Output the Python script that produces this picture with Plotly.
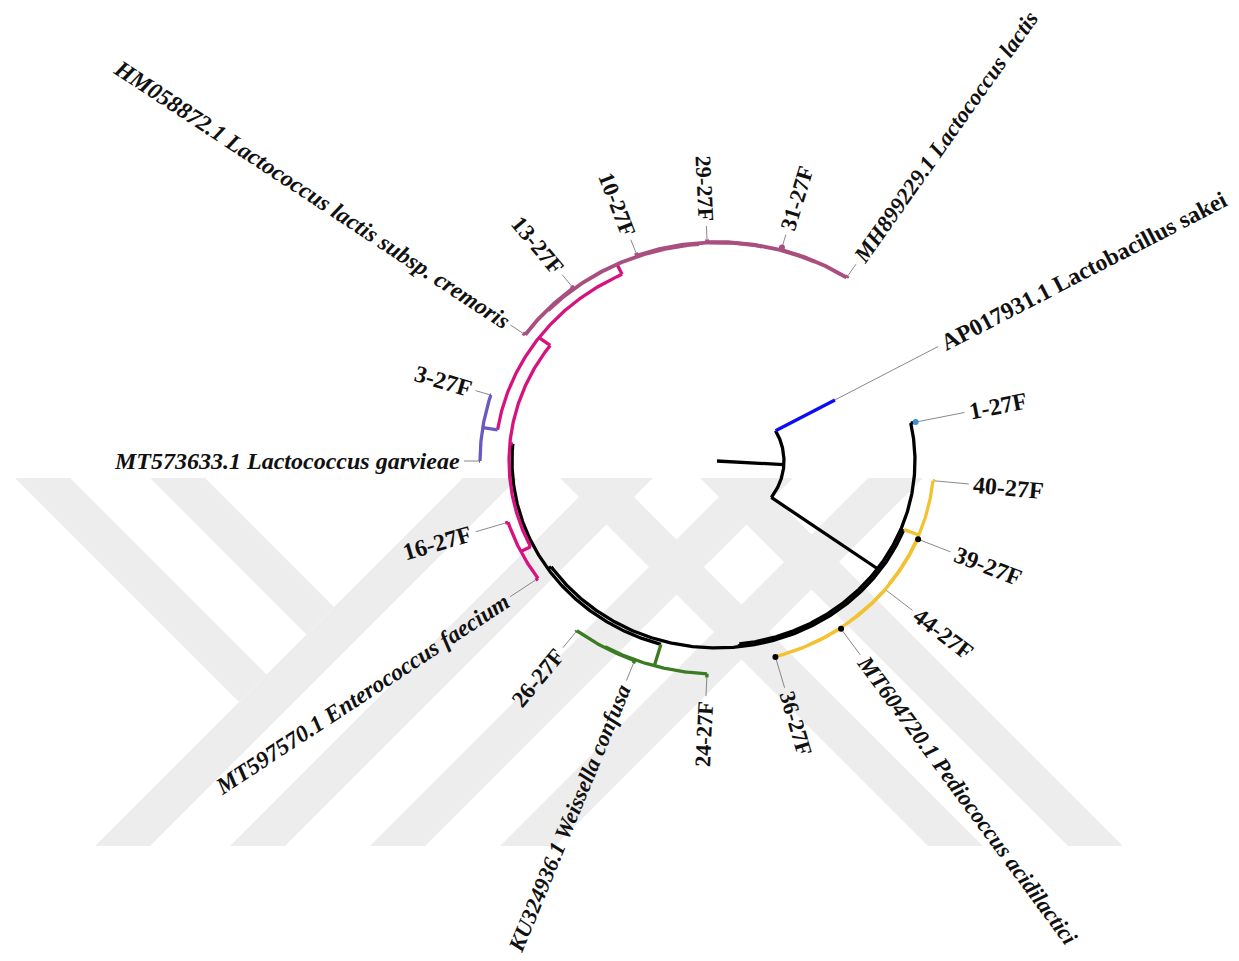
import math
from collections import defaultdict
import plotly.graph_objects as go

# ------------------------------------------------------------------ data
# Tree topology (parents listed before children) and branch lengths
node_names = ["root", "A", "sakei", "B", "t1", "D",
              "Y1", "t40", "Y2", "t39", "Y3", "t44", "Y4", "tPed", "t36",
              "E", "G1", "t24", "G2", "tWei", "t26",
              "P", "Ent", "tEnt", "t16", "Q", "Pu", "tGar", "t3",
              "M", "M1", "tHM", "t13", "M2", "t10", "M3", "t29", "M4", "t31", "tMH"]
node_parents = [None, "root", "A", "A", "B", "B",
                "D", "Y1", "Y1", "Y2", "Y2", "Y3", "Y3", "Y4", "Y4",
                "D", "E", "G1", "G1", "G2", "G2",
                "E", "P", "Ent", "Ent", "P", "Q", "Pu", "Pu",
                "Q", "M", "M1", "M1", "M", "M2", "M2", "M3", "M3", "M4", "M4"]
branch_lengths = [0.0, 0.067, 0.068, 0.131, 0.005, 0.003,
                  0.016, 0.002, 0.0005, 0.0005, 0.0005, 0.0005, 0.0003, 0.0007, 0.0003,
                  0.004, 0.024, 0.004, 0.001, 0.003, 0.002,
                  0.003, 0.011, 0.003, 0.003, 0.014, 0.015, 0.001, 0.001,
                  0.012, 0.001, 0.003, 0.003, 0.001, 0.003, 0.0005, 0.003, 0.0005, 0.0025, 0.0025]
node_groups = ["base", "base", "sakei", "base", "base", "base",
               "pedio", "pedio", "pedio", "pedio", "pedio", "pedio", "pedio", "pedio", "pedio",
               "base", "weiss", "weiss", "weiss", "weiss", "weiss",
               "entero", "entero", "entero", "entero", "entero", "garv", "garv", "garv",
               "lactis", "lactis", "lactis", "lactis", "lactis", "lactis", "lactis", "lactis",
               "lactis", "lactis", "lactis"]
# angular position of every leaf (degrees, counter-clockwise from 3 o'clock), in leaf order
leaf_order = ["sakei", "t1", "t40", "t39", "t44", "tPed", "t36", "t24", "tWei", "t26",
              "tEnt", "t16", "tGar", "t3", "tHM", "t13", "t10", "t29", "t31", "tMH"]
leaf_angles = [29.1, 11.9, -5.6, -22.7, -39.4, -55.5, -74.5, -92.5, -111.0, -127.5,
               -144.8, -162.5, -180.0, -197.4, -215.3, -232.3, -250.1, -267.6, -285.8, -303.3]
leaf_labels = {
    "sakei": "AP017931.1 Lactobacillus sakei",
    "t1": "1-27F", "t40": "40-27F", "t39": "39-27F", "t44": "44-27F",
    "tPed": "MT604720.1 Pediococcus acidilactici", "t36": "36-27F",
    "t24": "24-27F", "tWei": "KU324936.1 Weissella confusa", "t26": "26-27F",
    "tEnt": "MT597570.1 Enterococcus faecium", "t16": "16-27F",
    "tGar": "MT573633.1 Lactococcus garvieae", "t3": "3-27F",
    "tHM": "HM058872.1 Lactococcus lactis subsp. cremoris", "t13": "13-27F",
    "t10": "10-27F", "t29": "29-27F", "t31": "31-27F",
    "tMH": "MH899229.1 Lactococcus lactis",
}
italic_leaves = ["tPed", "tWei", "tEnt", "tGar", "tHM", "tMH"]
marked_tips = ["t1", "t39", "t36", "t31", "tPed"]

assert len(node_names) == len(node_parents) == len(branch_lengths) == len(node_groups)

# ------------------------------------------------------------------ style
GROUP_COLOURS = {"base": "#000000", "sakei": "#0c0cf5", "pedio": "#f2c232",
                 "weiss": "#3b7b22", "entero": "#d5127e", "garv": "#6b58c2",
                 "lactis": "#a94f80"}
GROUP_WIDTH = {"lactis": 3.8}
STEM_OVERRIDE = {"M": "entero"}
TIP_DOT_COLOURS = {"t1": "#3d8fd4", "t39": "#000000", "t36": "#000000",
                   "t31": "#a94f80", "tPed": "#000000"}
UNIT_PX = 1000.0
Y_SCALE = 0.93
W, H = 1239, 961
CX, CY = 717, 461
LABEL_R = 256
FONT_BASE = 24.0
FONT = "Liberation Serif"
LINE_W = 3.3

# ------------------------------------------------------------------ layout of tree
children = {n: [] for n in node_names}
parent_of = dict(zip(node_names, node_parents))
group_of = dict(zip(node_names, node_groups))
for n, p in zip(node_names, node_parents):
    if p is not None:
        children[p].append(n)

radius = {}
for n, p, bl in zip(node_names, node_parents, branch_lengths):
    radius[n] = (radius[p] if p else 0.0) + bl * UNIT_PX

leaves = []


def collect(n):
    if not children[n]:
        leaves.append(n)
        return
    for c in children[n]:
        collect(c)


collect("root")
assert leaves == leaf_order
angle = dict(zip(leaf_order, leaf_angles))


def set_angle(n):
    if children[n]:
        for c in children[n]:
            set_angle(c)
        angle[n] = (angle[children[n][0]] + angle[children[n][-1]]) / 2.0


set_angle("root")


def polar(r, deg):
    t = math.radians(deg)
    return r * math.cos(t), r * math.sin(t)


segs = defaultdict(lambda: ([], []))


def add_seg(g, pts):
    xs, ys = segs[g]
    for x, y in pts:
        xs.append(x)
        ys.append(y)
    xs.append(None)
    ys.append(None)


for n in node_names:
    p = parent_of[n]
    if p is not None:
        g = STEM_OVERRIDE.get(n, group_of[n])
        add_seg(g, [polar(radius[p], angle[n]), polar(radius[n], angle[n])])
    if children[n] and len(children[n]) > 1:
        a0 = angle[children[n][0]]
        a1 = angle[children[n][-1]]
        k = max(2, int(abs(a1 - a0) / 0.4) + 1)
        pts = [polar(radius[n], a0 + (a1 - a0) * i / (k - 1)) for i in range(k)]
        add_seg(group_of[n], pts)

fig = go.Figure()

# ------------------------------------------------------------------ watermark (decorative)
wm_col = "#ededed"
WM_TOP, WM_BOT = 478, 846
band = 55
hgt = WM_BOT - WM_TOP


def px2paper(x, y):
    return x / W, 1 - y / H


def poly(points):
    pp = [px2paper(x, y) for x, y in points]
    path = "M " + " L ".join(f"{x:.4f},{y:.4f}" for x, y in pp) + " Z"
    fig.add_shape(type="path", path=path, xref="paper", yref="paper",
                  fillcolor=wm_col, line=dict(width=0), layer="below")


for b in [95, 230, 370, 500]:
    poly([(b, WM_BOT), (b + band, WM_BOT), (b + band + hgt, WM_TOP), (b + hgt, WM_TOP)])
for t in [560, 700]:
    poly([(t, WM_TOP), (t + band, WM_TOP), (t + band + hgt, WM_BOT), (t + hgt, WM_BOT)])
poly([(15, 478), (70, 478), (266.5, 674.5), (239, 702)])
poly([(150, 478), (205, 478), (334, 607), (306.5, 634.5)])

# ------------------------------------------------------------------ connectors
cx, cy = [], []
for leaf in leaves:
    x0, y0 = polar(radius[leaf], angle[leaf])
    x1, y1 = polar(LABEL_R - 3, angle[leaf])
    cx += [x0, x1, None]
    cy += [y0, y1, None]
fig.add_trace(go.Scatter(x=cx, y=cy, mode="lines", line=dict(color="#7a7a7a", width=0.9),
                         hoverinfo="skip", showlegend=False))

# ------------------------------------------------------------------ branches
order = ["base"] + [g for g in segs if g != "base"]
for g in order:
    if g in segs:
        xs, ys = segs[g]
        fig.add_trace(go.Scatter(x=xs, y=ys, mode="lines",
                                 line=dict(color=GROUP_COLOURS[g], width=GROUP_WIDTH.get(g, LINE_W)),
                                 hoverinfo="skip", showlegend=False))

# tip dots
for leaf in marked_tips:
    x, y = polar(radius[leaf], angle[leaf])
    fig.add_trace(go.Scatter(x=[x], y=[y], mode="markers",
                             marker=dict(color=TIP_DOT_COLOURS[leaf], size=6),
                             hoverinfo="skip", showlegend=False))

# ------------------------------------------------------------------ labels
BOLD = {" ": 250, "-": 333, ".": 250, "A": 722, "F": 611, "H": 778, "K": 778, "M": 944,
        "P": 611, "T": 667, "U": 722, "L": 667, "E": 667, "W": 1000,
        "a": 500, "b": 556, "c": 444, "d": 556, "e": 444, "f": 333, "g": 500, "h": 556,
        "i": 278, "k": 556, "l": 278, "m": 833, "n": 556, "o": 500, "p": 556, "r": 444,
        "s": 389, "t": 333, "u": 556, "v": 500, "y": 500}
BOLD_IT = {" ": 250, "-": 333, ".": 250, "A": 667, "F": 667, "H": 778, "K": 667, "M": 889,
           "P": 611, "T": 611, "U": 722, "L": 611, "E": 667, "W": 889,
           "a": 500, "b": 500, "c": 444, "d": 500, "e": 444, "f": 333, "g": 500, "h": 556,
           "i": 278, "k": 500, "l": 278, "m": 778, "n": 556, "o": 500, "p": 500, "r": 389,
           "s": 389, "t": 278, "u": 556, "v": 444, "y": 444}


def text_width(s, italic, size):
    tab = BOLD_IT if italic else BOLD
    return sum(tab.get(ch, 500) for ch in s) / 1000.0 * size


for leaf in leaves:
    th = math.radians(angle[leaf])
    ux, uy = math.cos(th), -math.sin(th) * Y_SCALE
    nrm = math.hypot(ux, uy)
    size = FONT_BASE * nrm          # text shrinks like the picture's vertical scale
    ux, uy = ux / nrm, uy / nrm
    txt = leaf_labels[leaf]
    it = leaf in italic_leaves
    w = text_width(txt, it, size)
    shift = w / 2 + 2
    if math.cos(th) >= 0:
        ang = math.degrees(math.atan2(uy, ux))
    else:
        ang = math.degrees(math.atan2(-uy, -ux))
    x0, y0 = polar(LABEL_R, angle[leaf])
    shown = f"<b><i>{txt}</i></b>" if it else f"<b>{txt}</b>"
    fig.add_annotation(x=x0, y=y0, xref="x", yref="y", text=shown, showarrow=False,
                       xanchor="center", yanchor="middle", textangle=ang,
                       xshift=shift * ux, yshift=-shift * uy,
                       font=dict(family=FONT, size=round(size, 1), color="#111111"))

fig.update_layout(
    width=W, height=H, margin=dict(l=0, r=0, t=0, b=0),
    paper_bgcolor="white", plot_bgcolor="rgba(0,0,0,0)",
    xaxis=dict(range=[-CX, W - CX], visible=False, fixedrange=True),
    yaxis=dict(range=[-(H - CY) / Y_SCALE, CY / Y_SCALE], visible=False, fixedrange=True),
    showlegend=False,
)
fig.write_html("out.html")
